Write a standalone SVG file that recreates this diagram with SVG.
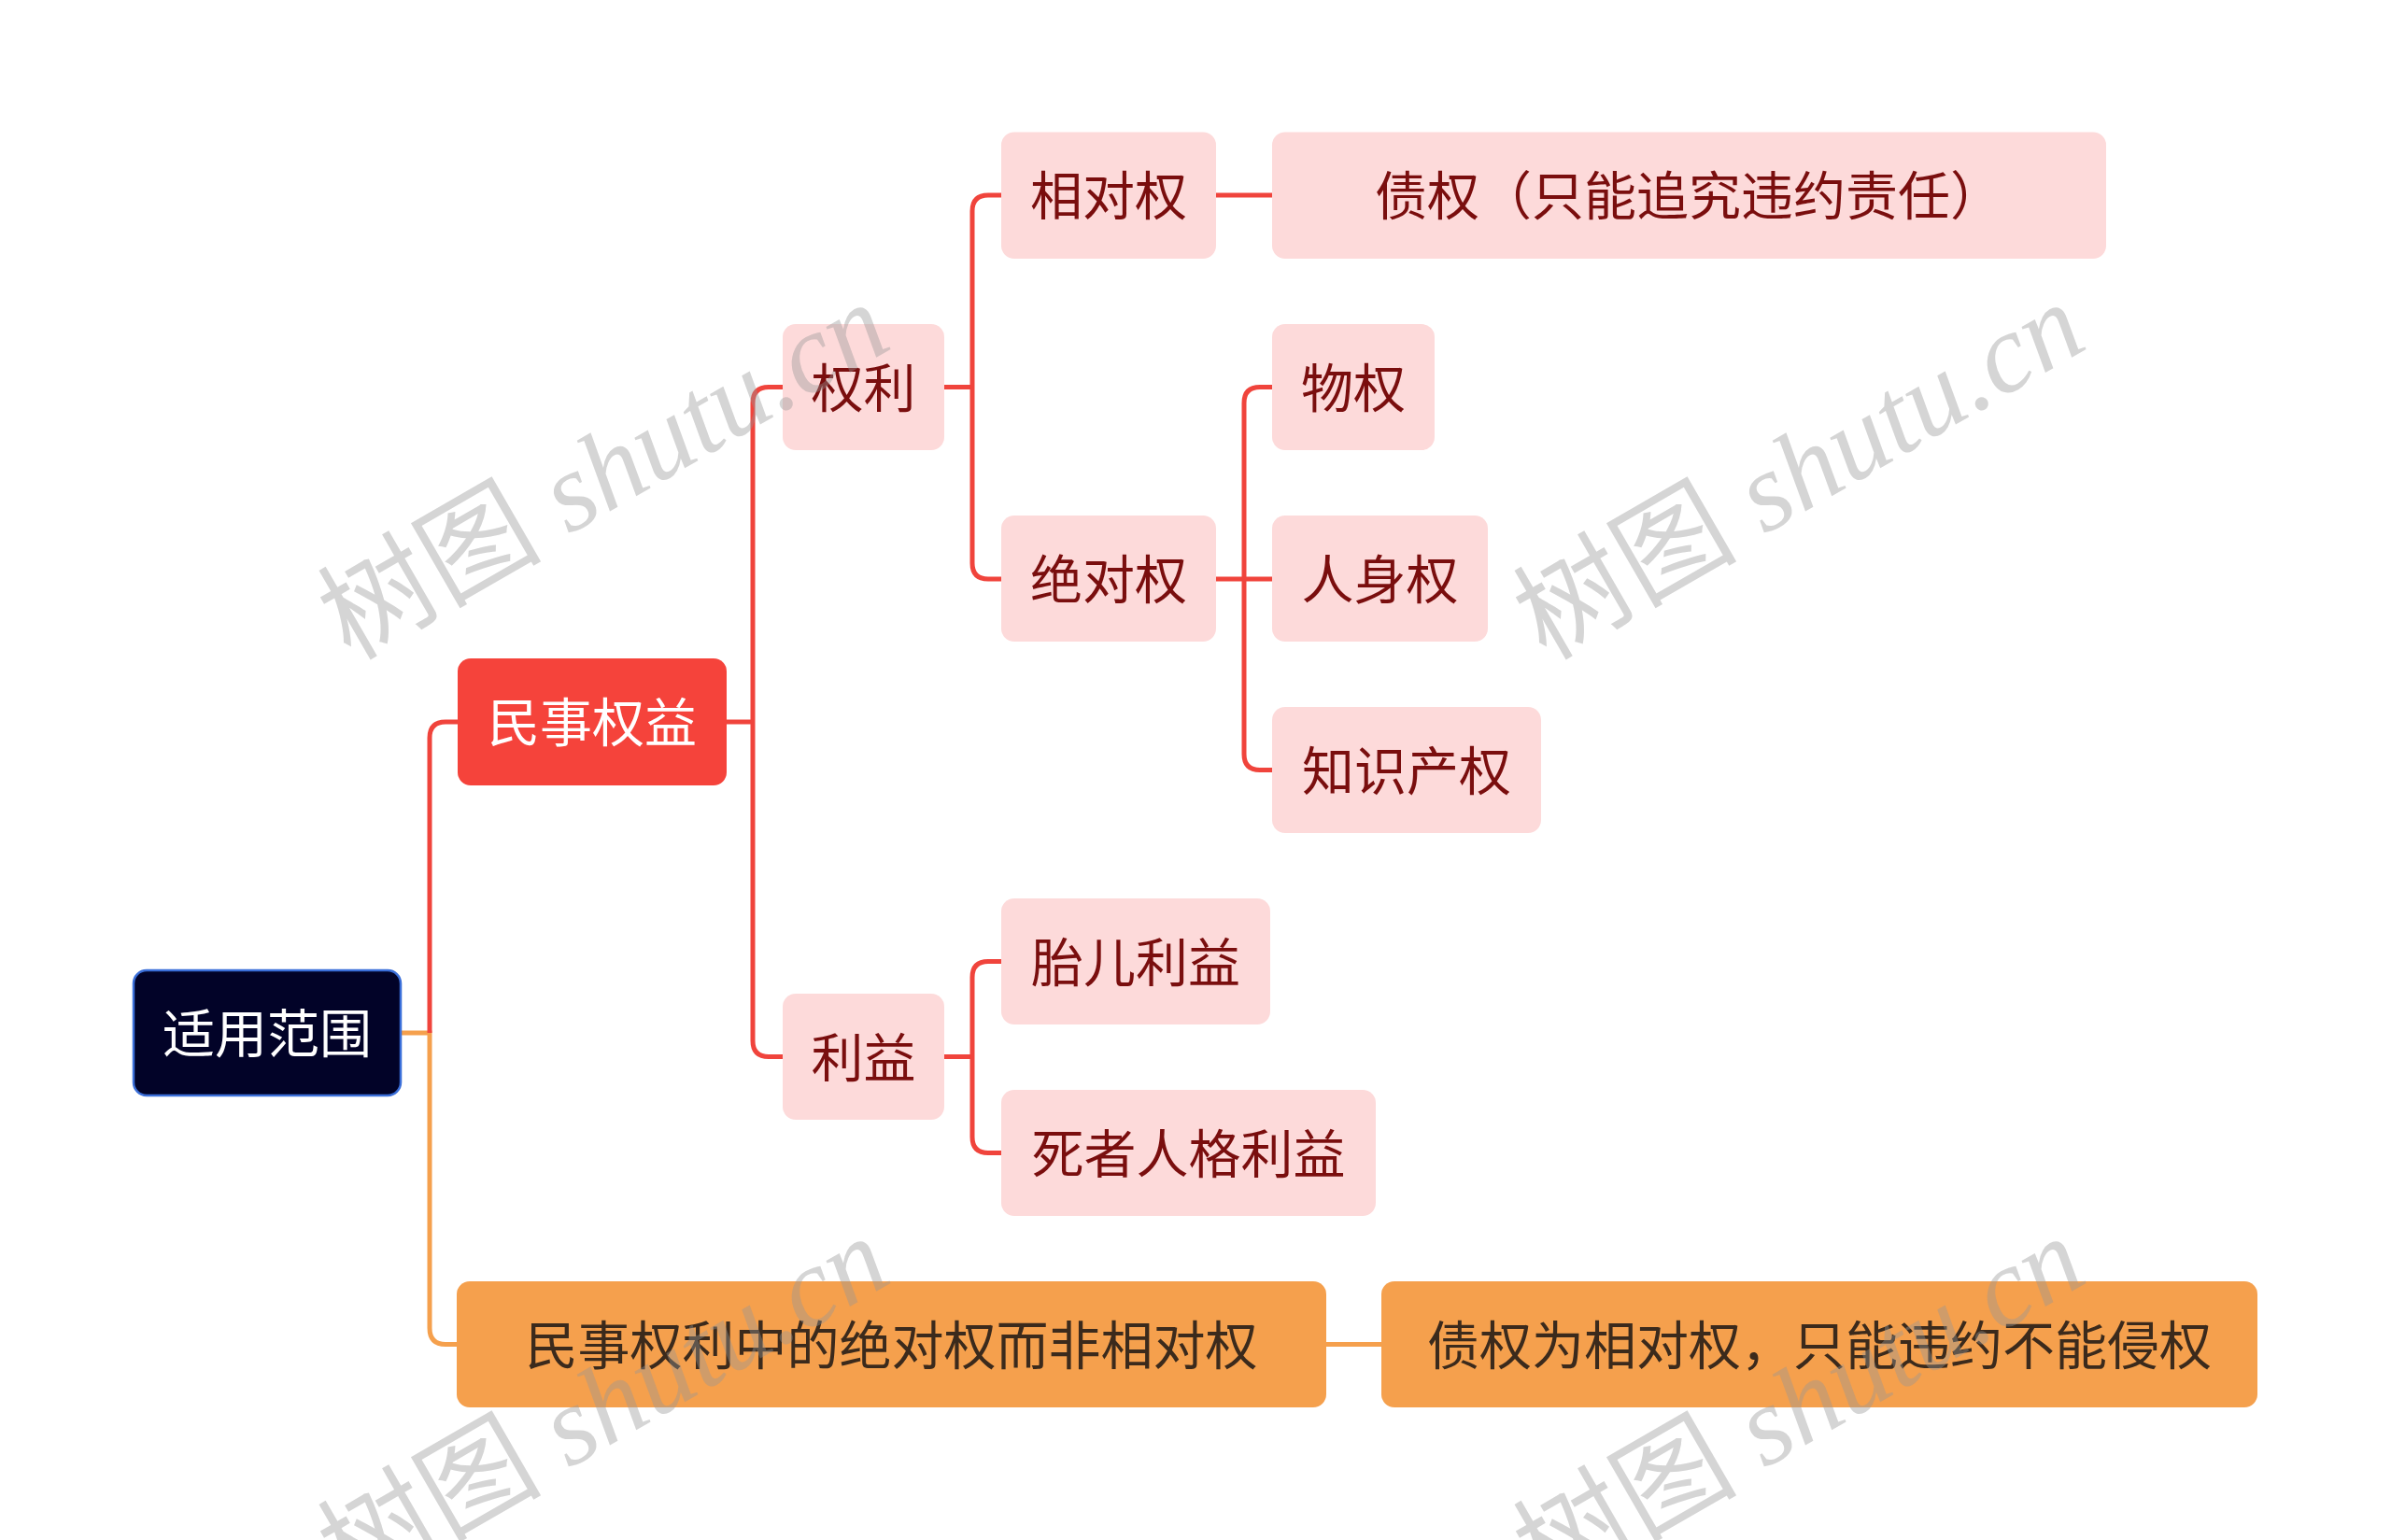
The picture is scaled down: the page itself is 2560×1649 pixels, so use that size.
<svg xmlns="http://www.w3.org/2000/svg" width="2560" height="1649" viewBox="0 0 2560 1649">
<style>
.t{font-family:"Noto Sans CJK SC","Noto Sans",sans-serif;font-size:56px;text-anchor:middle}
.pk{fill:#fddada}
.pt{fill:#7a0e0e}
.or{fill:#f5a04d}
.ot{fill:#3b2a1c}
.rl{fill:none;stroke:#f0443c;stroke-width:5}
.ol{fill:none;stroke:#f5a04d;stroke-width:5}
.wm{font-family:"Liberation Serif","Noto Sans CJK SC",serif;font-size:120px;fill:#969696;fill-opacity:0.4}
</style>
<rect width="2560" height="1649" fill="#ffffff"/>
<g id="connectors">
<path class="ol" d="M429 1106 H460 V1422 Q460 1439.5 477 1439.5 H489"/>
<path class="rl" d="M460 1106 V790 Q460 773 477 773 H490"/>
<path class="rl" d="M778 773 H806"/>
<path class="rl" d="M838 414.5 H823 Q806 414.5 806 431.5 V1114.5 Q806 1131.5 823 1131.5 H838"/>
<path class="rl" d="M1011 414.5 H1041"/>
<path class="rl" d="M1072 209 H1058 Q1041 209 1041 226 V603 Q1041 620 1058 620 H1072"/>
<path class="rl" d="M1302 209 H1362"/>
<path class="rl" d="M1302 620 H1362"/>
<path class="rl" d="M1362 414.5 H1349 Q1332 414.5 1332 431.5 V807.5 Q1332 824.5 1349 824.5 H1362"/>
<path class="rl" d="M1011 1131.5 H1041"/>
<path class="rl" d="M1072 1029.5 H1058 Q1041 1029.5 1041 1046.5 V1217.5 Q1041 1234.5 1058 1234.5 H1072"/>
<path class="ol" d="M1420 1439.5 H1479"/>
</g>
<g id="root">
<rect x="143" y="1039" width="286" height="134" rx="14" fill="#020328" stroke="#3b6fd9" stroke-width="2.5"/>
<text class="t" x="286" y="1127" fill="#ffffff">适用范围</text>
</g>
<g id="n-minshi">
<rect x="490" y="705" width="288" height="136" rx="14" fill="#f5433b"/>
<text class="t" x="634" y="794" fill="#ffffff">民事权益</text>
</g>
<g id="n-quanli">
<rect class="pk" x="838" y="347" width="173" height="135" rx="14"/>
<text class="t pt" x="924.5" y="435.5">权利</text>
</g>
<g id="n-xiangdui">
<rect class="pk" x="1072" y="141.5" width="230" height="135.5" rx="14"/>
<text class="t pt" x="1187" y="230">相对权</text>
</g>
<g id="n-zhaiquan">
<rect class="pk" x="1362" y="141.5" width="893" height="135.5" rx="14"/>
<text class="t pt" x="1808" y="230">债权（只能追究违约责任）</text>
</g>
<g id="n-juedui">
<rect class="pk" x="1072" y="552" width="230" height="135" rx="14"/>
<text class="t pt" x="1187" y="641">绝对权</text>
</g>
<g id="n-wuquan">
<rect class="pk" x="1362" y="347" width="174" height="135" rx="14"/>
<text class="t pt" x="1449" y="435.5">物权</text>
</g>
<g id="n-renshen">
<rect class="pk" x="1362" y="552" width="231" height="135" rx="14"/>
<text class="t pt" x="1477.5" y="641">人身权</text>
</g>
<g id="n-zhishi">
<rect class="pk" x="1362" y="757" width="288" height="135" rx="14"/>
<text class="t pt" x="1506" y="845.5">知识产权</text>
</g>
<g id="n-liyi">
<rect class="pk" x="838" y="1064" width="173" height="135" rx="14"/>
<text class="t pt" x="924.5" y="1152.5">利益</text>
</g>
<g id="n-taier">
<rect class="pk" x="1072" y="962" width="288" height="135" rx="14"/>
<text class="t pt" x="1216" y="1050.5">胎儿利益</text>
</g>
<g id="n-sizhe">
<rect class="pk" x="1072" y="1167" width="401" height="135" rx="14"/>
<text class="t pt" x="1272.5" y="1255.5">死者人格利益</text>
</g>
<g id="n-orange1">
<rect class="or" x="489" y="1372" width="931" height="135" rx="14"/>
<text class="t ot" x="954.5" y="1460.5">民事权利中的绝对权而非相对权</text>
</g>
<g id="n-orange2">
<rect class="or" x="1479" y="1372" width="938" height="135" rx="14"/>
<text class="t ot" x="1948" y="1460.5">债权为相对权，只能违约不能侵权</text>
</g>
<g id="watermarks">
<text class="wm" transform="translate(375 708) rotate(-30)">树图 <tspan font-style="italic">shutu.cn</tspan></text>
<text class="wm" transform="translate(1655 708) rotate(-30)">树图 <tspan font-style="italic">shutu.cn</tspan></text>
<text class="wm" transform="translate(375 1708) rotate(-30)">树图 <tspan font-style="italic">shutu.cn</tspan></text>
<text class="wm" transform="translate(1655 1708) rotate(-30)">树图 <tspan font-style="italic">shutu.cn</tspan></text>
</g>
</svg>
